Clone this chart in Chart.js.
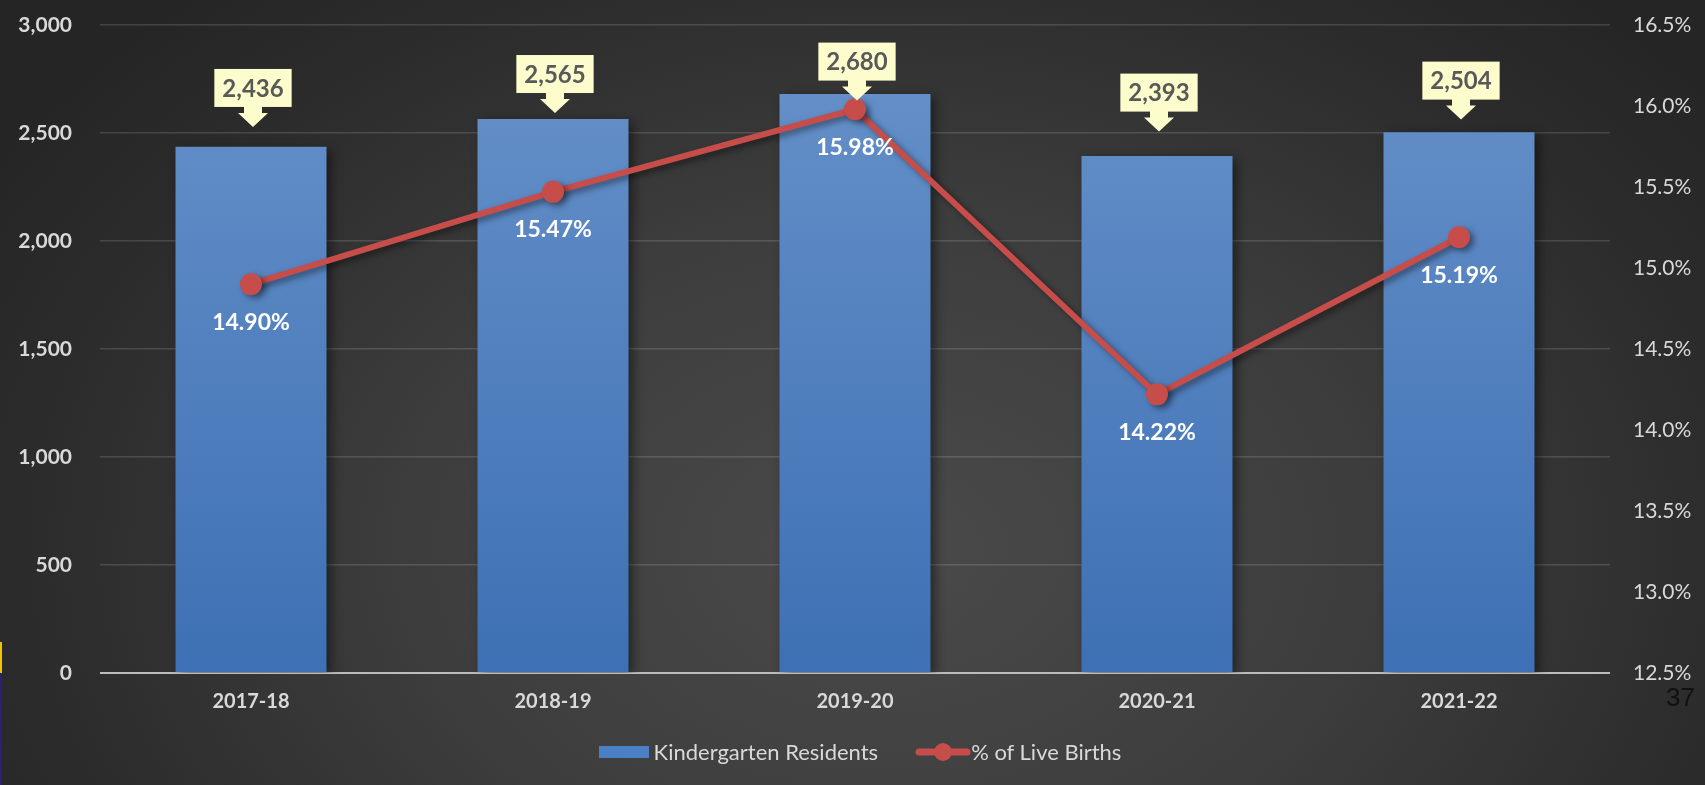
<!DOCTYPE html>
<html>
<head>
<meta charset="utf-8">
<script src="https://cdn.jsdelivr.net/npm/chart.js@4"></script>
<style>
  html, body { margin: 0; padding: 0; }
  body {
    width: 1705px; height: 785px; overflow: hidden; position: relative;
    background: radial-gradient(ellipse 62% 95% at 52% 70%, #4a4a4a 0%, #3d3d3d 45%, #2c2c2c 80%, #252525 100%);
  }
  #wrap { position: absolute; left: 0; top: 0; width: 1705px; height: 785px; }
  .edge { position: absolute; left: 0; width: 2px; }
  #pageNo {
    position: absolute; left: 1666px; top: 682px;
    font: 26px "Liberation Sans", Arial, sans-serif; color: #111;
  }
  #legend {
    position: absolute; left: 0; top: 739px; width: 1720px; height: 26px;
    display: flex; justify-content: center; align-items: center;
    font: 22px Lato, "Open Sans", sans-serif; color: #d9d9d9; line-height: 26px;
  }
  #legend .item { display: flex; align-items: center; }
  #legend .item + .item { margin-left: 37px; }
  #legend canvas { display: block; }
</style>
</head>
<body>
<div id="wrap"><canvas id="chart" width="1705" height="785"></canvas></div>
<div id="legend"></div>
<div class="edge" style="top:642px;height:31px;background:#f2c200"></div>
<div class="edge" style="top:673px;height:112px;background:#2d1f78"></div>
<div id="pageNo">37</div>
<script>
const seasons = ['2017-18', '2018-19', '2019-20', '2020-21', '2021-22'];
const residents = [2436, 2565, 2680, 2393, 2504];
const liveBirthPct = [14.90, 15.47, 15.98, 14.22, 15.19];
const countTicks = [0, 500, 1000, 1500, 2000, 2500, 3000];
const pctTicks = [12.5, 13.0, 13.5, 14.0, 14.5, 15.0, 15.5, 16.0, 16.5];

const FONT = 'Lato, "Open Sans", sans-serif';
const LABEL_GREY = '#d9d9d9';
const RED = '#c64d49';
const BLUE = '#4c80c6';

function barGradient(context) {
  const area = context.chart.chartArea;
  if (!area) return BLUE;
  const g = context.chart.ctx.createLinearGradient(0, area.top, 0, area.bottom);
  g.addColorStop(0, '#6892ca');
  g.addColorStop(1, '#3d70b4');
  return g;
}

// soft shadow under bars and line
const shadows = {
  id: 'shadows',
  beforeDatasetDraw(chart, args) {
    const ctx = chart.ctx;
    ctx.save();
    ctx.shadowColor = 'rgba(0,0,0,0.45)';
    ctx.shadowBlur = args.index === 0 ? 10 : 6;
    ctx.shadowOffsetX = 4;
    ctx.shadowOffsetY = 3;
  },
  afterDatasetDraw(chart) {
    chart.ctx.restore();
  }
};

// yellow arrow callouts above bars, white % labels under points
const valueLabels = {
  id: 'valueLabels',
  afterDatasetsDraw(chart) {
    const ctx = chart.ctx;
    const bars = chart.getDatasetMeta(0).data;
    const pts = chart.getDatasetMeta(1).data;
    // callout tips sit halfway between the bar top and this level
    const hang = chart.scales.y.getPixelForValue(2620);
    ctx.save();

    ctx.font = 'bold 23px ' + FONT;
    ctx.fillStyle = '#ffffff';
    ctx.textAlign = 'center';
    ctx.textBaseline = 'middle';
    pts.forEach((p, i) => {
      ctx.fillText(liveBirthPct[i].toFixed(2) + '%', p.x, p.y + 38);
    });

    ctx.font = 'bold 24px ' + FONT;
    bars.forEach((b, i) => {
      const text = residents[i].toLocaleString('en-US');
      const w = ctx.measureText(text).width + 16;
      const tip = (b.y + hang) / 2;
      const headTop = tip - 14;
      const boxBottom = headTop - 6;
      const boxTop = boxBottom - 38;
      const x = b.x + 2;
      ctx.fillStyle = '#fdfccd';
      ctx.fillRect(x - w / 2, boxTop, w, 38);
      ctx.beginPath();
      ctx.moveTo(x - 9, boxBottom - 1);
      ctx.lineTo(x + 9, boxBottom - 1);
      ctx.lineTo(x + 9, headTop);
      ctx.lineTo(x + 15, headTop);
      ctx.lineTo(x, tip);
      ctx.lineTo(x - 15, headTop);
      ctx.lineTo(x - 9, headTop);
      ctx.closePath();
      ctx.fill();
      ctx.fillStyle = '#595959';
      ctx.fillText(text, x, boxTop + 20);
    });
    ctx.restore();
  }
};

// value axes should not reserve room above/below for their labels
function pinVertical(width) {
  return s => {
    s.width = width;
    s.paddingTop = 0;
    s.paddingBottom = 0;
  };
}

const chart = new Chart(document.getElementById('chart'), {
  data: {
    labels: seasons,
    datasets: [
      {
        type: 'bar',
        label: 'Kindergarten Residents',
        data: residents,
        yAxisID: 'y',
        backgroundColor: barGradient,
        barPercentage: 0.5,
        categoryPercentage: 1,
        order: 2
      },
      {
        type: 'line',
        label: '% of Live Births',
        data: liveBirthPct,
        yAxisID: 'y1',
        borderColor: RED,
        borderWidth: 6,
        pointRadius: 11,
        pointHoverRadius: 11,
        pointBackgroundColor: RED,
        pointBorderWidth: 0,
        tension: 0,
        order: 1
      }
    ]
  },
  options: {
    responsive: false,
    animation: false,
    layout: { padding: { top: 25, bottom: 0, left: 0, right: 0 } },
    plugins: {
      tooltip: { enabled: false },
      legend: { display: false }
    },
    scales: {
      x: {
        grid: { display: false, drawTicks: false },
        border: { display: false },
        afterFit: s => { s.height = 112; },
        ticks: { color: LABEL_GREY, font: { family: FONT, size: 20, weight: 'bold' }, padding: 17 }
      },
      y: {
        position: 'left',
        min: countTicks[0],
        max: countTicks[countTicks.length - 1],
        afterBuildTicks: s => { s.ticks = countTicks.map(v => ({ value: v })); },
        afterFit: pinVertical(100),
        border: { display: false },
        grid: {
          drawTicks: false,
          lineWidth: c => c.tick && c.tick.value === 0 ? 2 : 1.5,
          color: c => c.tick && c.tick.value === 0 ? '#bcbcbc' : 'rgba(255,255,255,0.14)'
        },
        ticks: {
          color: LABEL_GREY,
          padding: 28,
          font: { family: FONT, size: 21, weight: 'bold' },
          callback: v => v.toLocaleString('en-US')
        }
      },
      y1: {
        position: 'right',
        min: pctTicks[0],
        max: pctTicks[pctTicks.length - 1],
        afterBuildTicks: s => { s.ticks = pctTicks.map(v => ({ value: v })); },
        afterFit: pinVertical(95),
        border: { display: false },
        grid: { display: false, drawTicks: false },
        ticks: {
          color: LABEL_GREY,
          padding: 23,
          font: { family: FONT, size: 21 },
          callback: v => v.toFixed(1) + '%'
        }
      }
    }
  },
  plugins: [shadows, valueLabels]
});

// html legend built from the datasets
function swatchFor(ds) {
  const c = document.createElement('canvas');
  const g = c.getContext('2d');
  if (ds.type === 'bar') {
    c.width = 50; c.height = 14;
    g.fillStyle = BLUE;
    g.fillRect(0, 1, 50, 12);
    c.style.marginRight = '5px';
  } else {
    c.width = 56; c.height = 20;
    g.strokeStyle = ds.borderColor; g.lineWidth = 7; g.lineCap = 'round';
    g.beginPath(); g.moveTo(4, 10); g.lineTo(52, 10); g.stroke();
    g.fillStyle = ds.pointBackgroundColor;
    g.beginPath(); g.arc(28, 10, 9, 0, Math.PI * 2); g.fill();
  }
  return c;
}
const legendEl = document.getElementById('legend');
chart.data.datasets.forEach(ds => {
  const item = document.createElement('div');
  item.className = 'item';
  item.appendChild(swatchFor(ds));
  const label = document.createElement('span');
  label.textContent = ds.label;
  item.appendChild(label);
  legendEl.appendChild(item);
});
</script>
</body>
</html>
